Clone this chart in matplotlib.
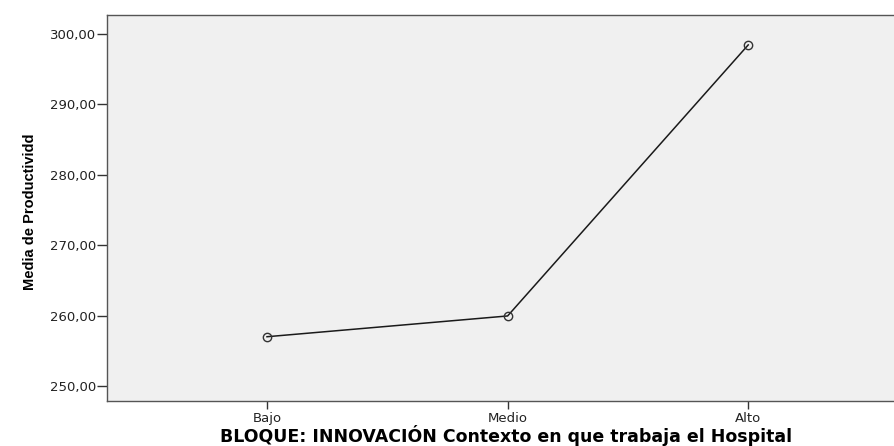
import matplotlib
matplotlib.use("Agg")
import matplotlib.pyplot as plt

categories = ["Bajo", "Medio", "Alto"]
values = [257.0, 259.95, 298.45]
yticks = [250, 260, 270, 280, 290, 300]
ytick_labels = ["250,00", "260,00", "270,00", "280,00", "290,00", "300,00"]

fig = plt.figure(figsize=(8.95, 4.46), dpi=100)
ax = fig.add_axes([107/895, 1-401/446, 1-107/895, (401-15)/446])
ax.set_facecolor("#f0f0f0")

x = list(range(len(categories)))
ax.plot(x, values, color="#1a1a1a", lw=1.1, marker="o", markersize=6,
        markerfacecolor="none", markeredgecolor="#333333", markeredgewidth=1.0)

ax.set_xlim(-0.665, 2.61)
ax.set_ylim(247.87, 302.7)
ax.set_xticks(x)
ax.set_xticklabels(categories, fontsize=9.5, family=["DejaVu Sans"], color="#222222")
ax.set_yticks(yticks)
ax.set_yticklabels(ytick_labels, fontsize=9.5, family=["DejaVu Sans"], color="#222222")

for s in ax.spines.values():
    s.set_color("#555555")
    s.set_linewidth(1.0)
ax.tick_params(axis="y", direction="out", length=7, width=1, color="#333333", pad=1)
ax.tick_params(axis="x", direction="out", length=6, width=1, color="#333333", pad=2)

ax.set_ylabel("Media de Productividd", fontsize=10.5, fontweight="bold",
              family=["Liberation Sans Narrow", "Liberation Sans", "DejaVu Sans"], va="center")
ax.yaxis.set_label_coords((30-107)/(895-107), (401-212)/386)
ax.set_xlabel("BLOQUE: INNOVACIÓN Contexto en que trabaja el Hospital", fontsize=12.5,
              fontweight="bold", family=["DejaVu Sans"], va="center")
ax.xaxis.set_label_coords((506-107)/(895-107), (401-435)/386)

fig.savefig("out.png", dpi=100)
